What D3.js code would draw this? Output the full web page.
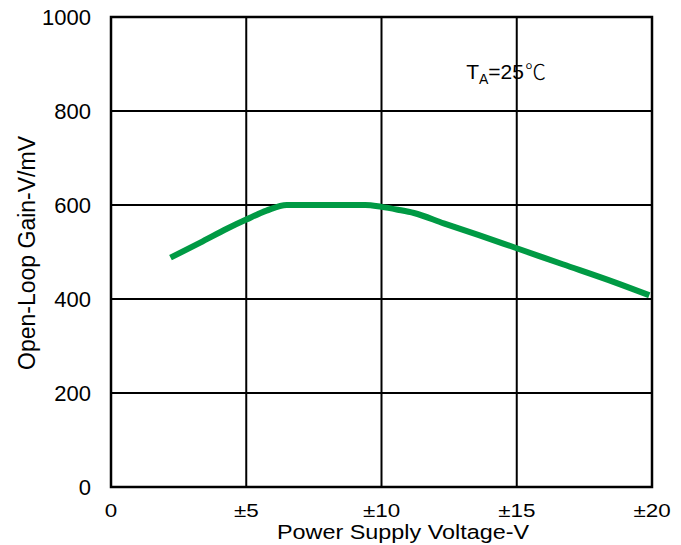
<!DOCTYPE html>
<html>
<head>
<meta charset="utf-8">
<script src="https://cdn.jsdelivr.net/npm/d3@7"></script>
<style>
  body { margin: 0; background: #fff; }
  text { font-family: "Liberation Sans", Arial, sans-serif; fill: #000; }
</style>
</head>
<body>
<svg id="chart"></svg>
<script>
// supply voltage (±V) vs open-loop gain (V/mV)
const supplyV = [2.2, 3.3, 4.3, 5.0, 5.75, 6.5, 8.0, 9.4, 10.0, 10.6, 11.2, 12.3, 13.6, 15.0, 16.7, 18.6, 19.9];
const gain    = [488, 520, 550, 569, 588, 600, 600, 600, 596, 590, 583, 561, 536, 508, 474, 436, 408];
const xTicks = [0, 5, 10, 15, 20];
const xTickLabels = ["0", "±5", "±10", "±15", "±20"];
const yTicks = [0, 200, 400, 600, 800, 1000];

const W = 681, H = 545;
const margin = { top: 17, right: 29, bottom: 58, left: 111 };
const width = W - margin.left - margin.right;
const height = H - margin.top - margin.bottom;

const svg = d3.select("#chart").attr("width", W).attr("height", H);
const g = svg.append("g").attr("transform", `translate(${margin.left},${margin.top})`);

const x = d3.scaleLinear().domain([0, 20]).range([0, width]);
const y = d3.scaleLinear().domain([0, 1000]).range([height, 0]);

// grid
g.selectAll(".vgrid").data(xTicks).join("line")
  .attr("x1", d => x(d)).attr("x2", d => x(d))
  .attr("y1", 0).attr("y2", height)
  .attr("stroke", "#000").attr("stroke-width", 2);
g.selectAll(".hgrid").data(yTicks).join("line")
  .attr("x1", 0).attr("x2", width)
  .attr("y1", d => y(d)).attr("y2", d => y(d))
  .attr("stroke", "#000").attr("stroke-width", 2);
g.append("rect").attr("width", width).attr("height", height)
  .attr("fill", "none").attr("stroke", "#000").attr("stroke-width", 2.5);

// tick labels
g.selectAll(".ylab").data(yTicks).join("text")
  .attr("x", -20).attr("y", d => y(d)).attr("dy", "0.36em")
  .attr("text-anchor", "end").attr("font-size", 22)
  .text(d => d);
g.selectAll(".xlab").data(xTicks).join("text")
  .attr("transform", d => `translate(${x(d)},${height + 30}) scale(1.18,1)`)
  .attr("text-anchor", "middle").attr("font-size", 19)
  .text((d, i) => xTickLabels[i]);

// axis titles
svg.append("text")
  .attr("transform", `translate(35,${margin.top + height / 2 + 1}) rotate(-90)`)
  .attr("text-anchor", "middle").attr("font-size", 23)
  .text("Open-Loop Gain-V/mV");
svg.append("text")
  .attr("transform", `translate(403,539) scale(1.2,1)`)
  .attr("text-anchor", "middle").attr("font-size", 19.5)
  .text("Power Supply Voltage-V");

// annotation
const ann = g.append("text").attr("x", x(13.13)).attr("y", y(868)).attr("font-size", 21);
ann.append("tspan").text("T");
ann.append("tspan").attr("font-size", 14).attr("dy", 5).text("A");
ann.append("tspan").attr("dy", -5).text("=25");
ann.append("tspan").attr("font-family", "Noto Sans CJK SC").attr("font-weight", 300).attr("dx", 1).text("℃");

// curve
const line = d3.line().x((d, i) => x(supplyV[i])).y(d => y(d)).curve(d3.curveMonotoneX);
g.append("path").datum(gain)
  .attr("d", line)
  .attr("fill", "none").attr("stroke", "#009a44").attr("stroke-width", 6);
</script>
</body>
</html>
